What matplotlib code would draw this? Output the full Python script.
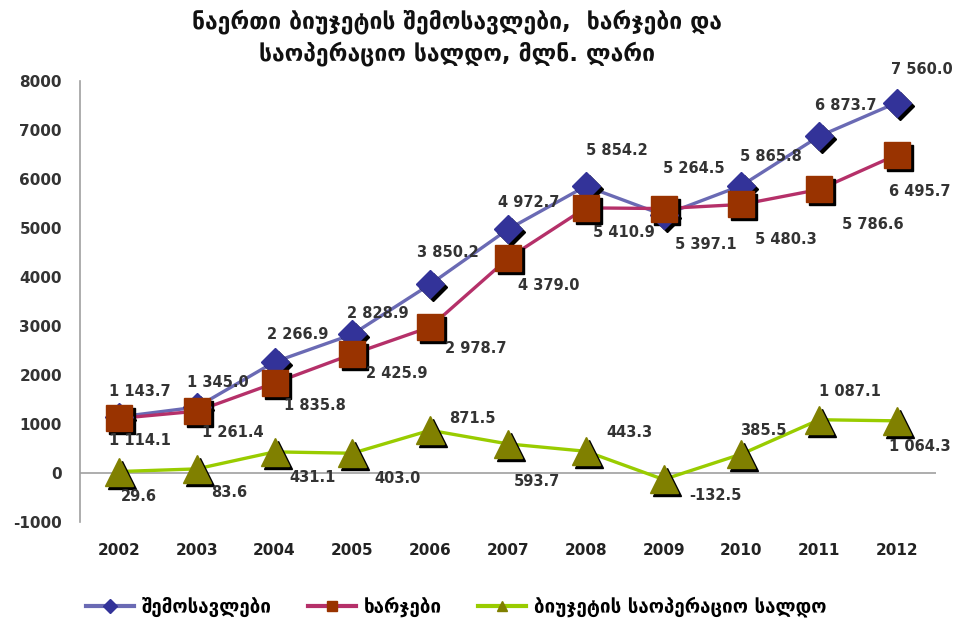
import matplotlib
matplotlib.use("Agg")
import matplotlib.pyplot as plt
import matplotlib.transforms as mtransforms

years = ["2002", "2003", "2004", "2005", "2006", "2007", "2008", "2009", "2010", "2011", "2012"]
revenue = [1143.7, 1345.0, 2266.9, 2828.9, 3850.2, 4972.7, 5854.2, 5264.5, 5865.8, 6873.7, 7560.0]
expenditure = [1114.1, 1261.4, 1835.8, 2425.9, 2978.7, 4379.0, 5410.9, 5397.1, 5480.3, 5786.6, 6495.7]
balance = [29.6, 83.6, 431.1, 403.0, 871.5, 593.7, 443.3, -132.5, 385.5, 1087.1, 1064.3]
series_names = ["შემოსავლები", "ხარჯები", "ბიუჯეტის საოპერაციო სალდო"]
title = "ნაერთი ბიუჯეტის შემოსავლები,  ხარჯები და\nსაოპერაციო სალდო, მლნ. ლარი"
yticks = [-1000, 0, 1000, 2000, 3000, 4000, 5000, 6000, 7000, 8000]

# label offsets in pixels (dx, dy), positive dy = up
rev_off = [(21, 25), (21, 25), (23, 27), (25, 21), (18, 32), (21, 27), (31, 36), (30, 47), (30, 29), (27, 31), (25, 33)]
exp_off = [(21, -22), (36, -21), (40, -22), (44, -19), (46, -21), (41, -27), (38, -25), (42, -36), (44, -35), (54, -35), (23, -37)]
bal_off = [(20, -25), (32, -24), (38, -26), (45, -25), (42, 12), (29, -38), (44, 19), (52, -16), (22, 24), (31, 28), (23, -26)]

fig = plt.figure(figsize=(9.56, 6.28), dpi=100)
ax = fig.add_axes([0.0837, 0.1688, 0.8953, 0.7022])

x = list(range(len(years)))
shadow = mtransforms.offset_copy(ax.transData, fig=fig, x=3, y=-3, units="dots")

styles = [
    (revenue, "#6A6AB4", "#333399", "D", 14.5, rev_off),
    (expenditure, "#B53069", "#993300", "s", 18.5, exp_off),
    (balance, "#99CC00", "#808000", "^", 20, bal_off),
]

handles = []
for (vals, lc, mc, mk, ms, offs), name in zip(styles, series_names):
    ax.plot(x, vals, linestyle="none", marker=mk, markersize=ms, color="black",
            transform=shadow, zorder=3)
    ax.plot(x, vals, color=lc, linewidth=2.4, zorder=2)
    ax.plot(x, vals, linestyle="none", marker=mk, markersize=ms, markerfacecolor=mc,
            markeredgecolor=mc, zorder=4)
    h, = ax.plot([], [], color=lc, linewidth=3, marker=mk, markersize=7,
                 markerfacecolor=mc, markeredgecolor=mc)
    handles.append(h)
    for xi, v, (dx, dy) in zip(x, vals, offs):
        s = f"{v:,.1f}".replace(",", " ")
        ax.annotate(s, (xi, v), xytext=(dx, dy), textcoords="offset pixels",
                    ha="center", va="center", fontsize=10.5, fontweight="bold",
                    color="#333333", zorder=6)

ax.set_xlim(-0.5, len(years) - 0.5)
ax.set_ylim(-1000, 8000)
ax.set_yticks(yticks)
ax.set_yticklabels([str(t) for t in yticks], fontsize=11, fontweight="bold", color="#333333")
ax.set_xticks(x)
ax.set_xticklabels(years, fontsize=11, fontweight="bold", color="#222222")
ax.tick_params(axis="y", length=0, pad=13)
ax.tick_params(axis="x", length=0, pad=15)
for side in ["top", "right", "bottom"]:
    ax.spines[side].set_visible(False)
ax.spines["left"].set_color("#A0A0A0")
ax.spines["left"].set_linewidth(1.2)
ax.axhline(0, color="#A0A0A0", linewidth=1.2, zorder=1)

fig.text(0.478, 0.985, title, ha="center", va="top", fontsize=16.5, fontweight="bold",
         color="#111111", linespacing=1.35)

fig.legend(handles, series_names, loc="lower left", bbox_to_anchor=(0.072, -0.01),
           ncol=3, frameon=False, handlelength=2.6, columnspacing=1.9, handletextpad=0.4,
           prop={"size": 13.5, "weight": "bold"})

fig.savefig("out.png", dpi=100)
